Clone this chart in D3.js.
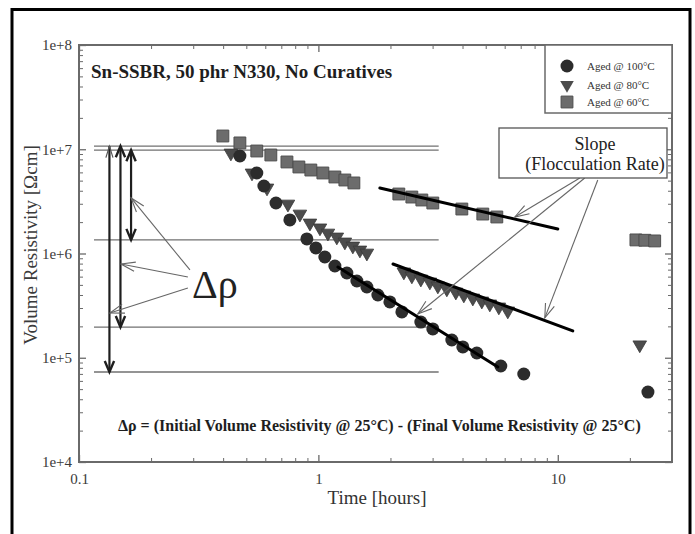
<!DOCTYPE html>
<html>
<head>
<meta charset="utf-8">
<script src="https://cdn.jsdelivr.net/npm/d3@7"></script>
<style>
  html, body { margin: 0; padding: 0; background: #fff; }
  svg { display: block; }
</style>
</head>
<body>
<svg id="chart" width="695" height="534"></svg>
<script>
// ---- Data: time [hours] vs volume resistivity [ohm·cm] ----
const aged100Time = [0.470, 0.553, 0.592, 0.665, 0.760, 0.895, 0.976, 1.064, 1.172, 1.315, 1.448, 1.594, 1.772, 1.989, 2.232, 2.679, 3.006, 3.609, 4.012, 4.590, 5.78, 7.21, 23.8];
const aged100Rho  = [8.61e6, 5.92e6, 4.44e6, 3.05e6, 2.10e6, 1.38e6, 1.13e6, 9.26e5, 7.59e5, 6.50e5, 5.45e5, 4.77e5, 4.00e5, 3.43e5, 2.75e5, 2.20e5, 1.89e5, 1.48e5, 1.27e5, 1.11e5, 8.33e4, 6.98e4, 4.69e4];

const aged80Time = [0.431, 0.528, 0.610, 0.746, 0.837, 0.922, 1.015, 1.096, 1.194, 1.290, 1.393, 1.491, 1.594, 2.275, 2.457, 2.679, 2.922, 3.155, 3.440, 3.751, 4.051, 4.417, 4.816, 5.201, 5.672, 6.183, 22.0];
const aged80Rho  = [9.2e6, 5.92e6, 4.25e6, 2.98e6, 2.39e6, 1.96e6, 1.76e6, 1.57e6, 1.44e6, 1.29e6, 1.18e6, 1.08e6, 1.01e6, 6.65e5, 6.09e5, 5.69e5, 5.33e5, 4.88e5, 4.57e5, 4.27e5, 4.00e5, 3.74e5, 3.50e5, 3.28e5, 3.07e5, 2.81e5, 1.33e5];

const aged60Time = [0.399, 0.470, 0.553, 0.633, 0.739, 0.829, 0.930, 1.044, 1.172, 1.290, 1.407, 2.168, 2.457, 2.705, 3.006, 3.974, 4.862, 5.564, 21.2, 23.1, 25.4];
const aged60Rho  = [1.34e7, 1.15e7, 9.62e6, 8.81e6, 7.55e6, 6.76e6, 6.32e6, 5.92e6, 5.42e6, 5.07e6, 4.75e6, 3.72e6, 3.48e6, 3.26e6, 3.05e6, 2.67e6, 2.39e6, 2.24e6, 1.35e6, 1.34e6, 1.32e6];

// Linear (log-log) slope fits: end points
const fit100Time = [1.206, 5.62],  fit100Rho = [7.42e5, 8.15e4];
const fit80Time  = [2.05, 11.55],  fit80Rho  = [7.93e5, 1.81e5];
const fit60Time  = [1.806, 10.0],  fit60Rho  = [4.25e6, 1.72e6];

// Reference resistivity levels (initial / final) and the time span they cover
const refLevels = [1.07e7, 9.8e6, 1.35e6, 1.97e5, 7.3e4];
const refSpan = [0.1155, 3.18];

// Δρ double arrows
const deltaTime   = [0.134, 0.149, 0.165];
const deltaTop    = [1.07e7, 1.07e7, 9.8e6];
const deltaBottom = [7.3e4, 1.97e5, 1.35e6];

// Axis ticks
const xMajor = [0.1, 1, 10];
const xTickLabels = ["0.1", "1", "10"];
const yMajor = [1e4, 1e5, 1e6, 1e7, 1e8];
const yTickLabels = ["1e+4", "1e+5", "1e+6", "1e+7", "1e+8"];

const legendLabels = ["Aged @ 100°C", "Aged @ 80°C", "Aged @ 60°C"];

// ---- Layout ----
const W = 695, H = 534;
const margin = { top: 45, right: 23, bottom: 72, left: 79 };
const x0 = margin.left, x1 = W - margin.right, y0 = H - margin.bottom, y1 = margin.top;
const serif = '"Liberation Serif", "Times New Roman", Times, serif';
const axisColor = "#6a6a6a";

const x = d3.scaleLog().domain([0.1, 30]).range([x0, x1]);
const y = d3.scaleLog().domain([1e4, 1e8]).range([y0, y1]);

const xMinor = [];
[0.1, 1, 10].forEach(d => { for (let k = 2; k <= 9; k++) if (d * k < 30.0001) xMinor.push(d * k); });
const yMinor = [];
[1e4, 1e5, 1e6, 1e7].forEach(d => { for (let k = 2; k <= 9; k++) yMinor.push(d * k); });

const svg = d3.select("#chart");
svg.append("rect").attr("width", W).attr("height", H).attr("fill", "#fff");

// outer frame
svg.append("rect").attr("x", 12).attr("y", 9.5).attr("width", 678).attr("height", H + 20)
  .attr("fill", "none").attr("stroke", "#000").attr("stroke-width", 3);

// ---- Axes ----
function styleAxis(g, sw) {
  g.select(".domain").remove();
  g.selectAll(".tick line").attr("stroke", axisColor).attr("stroke-width", sw);
  g.selectAll(".tick text").attr("fill", "#3a3a3a");
  g.attr("font-family", serif).attr("font-size", 15);
}
const major = 7, minor = 4;
svg.append("g").attr("transform", `translate(0,${y0})`)
  .call(d3.axisBottom(x).tickValues(xMajor).tickSize(-major).tickSizeOuter(0).tickPadding(11)
    .tickFormat((d, i) => xTickLabels[i])).call(g => styleAxis(g, 1.3));
svg.append("g").attr("transform", `translate(0,${y0})`)
  .call(d3.axisBottom(x).tickValues(xMinor).tickSize(-minor).tickSizeOuter(0).tickFormat(""))
  .call(g => styleAxis(g, 1));
svg.append("g").attr("transform", `translate(0,${y1})`)
  .call(d3.axisTop(x).tickValues(xMajor).tickSize(-major).tickSizeOuter(0).tickFormat(""))
  .call(g => styleAxis(g, 1.3));
svg.append("g").attr("transform", `translate(0,${y1})`)
  .call(d3.axisTop(x).tickValues(xMinor).tickSize(-minor).tickSizeOuter(0).tickFormat(""))
  .call(g => styleAxis(g, 1));
svg.append("g").attr("transform", `translate(${x0},0)`)
  .call(d3.axisLeft(y).tickValues(yMajor).tickSize(-major).tickSizeOuter(0).tickPadding(7)
    .tickFormat((d, i) => yTickLabels[i])).call(g => styleAxis(g, 1.3));
svg.append("g").attr("transform", `translate(${x0},0)`)
  .call(d3.axisLeft(y).tickValues(yMinor).tickSize(-minor).tickSizeOuter(0).tickFormat(""))
  .call(g => styleAxis(g, 1));
svg.append("g").attr("transform", `translate(${x1},0)`)
  .call(d3.axisRight(y).tickValues(yMajor).tickSize(-major).tickSizeOuter(0).tickFormat(""))
  .call(g => styleAxis(g, 1.3));
svg.append("g").attr("transform", `translate(${x1},0)`)
  .call(d3.axisRight(y).tickValues(yMinor).tickSize(-minor).tickSizeOuter(0).tickFormat(""))
  .call(g => styleAxis(g, 1));

// plot border
svg.append("rect").attr("x", x0).attr("y", y1).attr("width", x1 - x0).attr("height", y0 - y1)
  .attr("fill", "none").attr("stroke", axisColor).attr("stroke-width", 2);

// axis titles
svg.append("text").attr("x", 377).attr("y", 504).attr("text-anchor", "middle")
  .attr("font-family", serif).attr("font-size", 19).attr("fill", "#333").text("Time [hours]");
svg.append("text").attr("transform", "translate(37,245) rotate(-90)").attr("text-anchor", "middle")
  .attr("font-family", serif).attr("font-size", 19).attr("fill", "#3a3a3a").text("Volume Resistivity [Ωcm]");

// ---- Reference levels ----
svg.append("g").selectAll("line").data(refLevels).join("line")
  .attr("x1", x(refSpan[0])).attr("x2", x(refSpan[1]))
  .attr("y1", d => y(d)).attr("y2", d => y(d))
  .attr("stroke", "#707070").attr("stroke-width", 1.3);

// ---- Series markers ----
const zip = (t, r) => t.map((d, i) => ({ t: d, r: r[i] }));
const sq = d3.symbol(d3.symbolSquare, 140);
const tri = d3.symbol(d3.symbolTriangle, 80);

svg.append("g").selectAll("path").data(zip(aged60Time, aged60Rho)).join("path")
  .attr("d", sq).attr("transform", d => `translate(${x(d.t)},${y(d.r)})`)
  .attr("fill", "#6c6c6c").attr("stroke", "#4e4e4e").attr("stroke-width", 1);

svg.append("g").selectAll("path").data(zip(aged80Time, aged80Rho)).join("path")
  .attr("d", tri).attr("transform", d => `translate(${x(d.t)},${y(d.r)}) rotate(180)`)
  .attr("fill", "#4c4c4c").attr("stroke", "#3a3a3a").attr("stroke-width", 0.8);

svg.append("g").selectAll("circle").data(zip(aged100Time, aged100Rho)).join("circle")
  .attr("cx", d => x(d.t)).attr("cy", d => y(d.r)).attr("r", 6.5)
  .attr("fill", "#2c2c2c");

// ---- Slope fit lines ----
const fitLine = d3.line().x(d => x(d.t)).y(d => y(d.r));
[[fit60Time, fit60Rho], [fit80Time, fit80Rho], [fit100Time, fit100Rho]].forEach(([t, r]) => {
  svg.append("path").attr("d", fitLine(zip(t, r))).attr("fill", "none")
    .attr("stroke", "#000").attr("stroke-width", 3).attr("stroke-linecap", "round");
});

// ---- Arrow helpers ----
function vHead(ax, ay, bx, by, len, half) {
  const a = Math.atan2(by - ay, bx - ax);
  const p1 = [bx - len * Math.cos(a - half), by - len * Math.sin(a - half)];
  const p2 = [bx - len * Math.cos(a + half), by - len * Math.sin(a + half)];
  return `M${p1[0]},${p1[1]}L${bx},${by}L${p2[0]},${p2[1]}`;
}

// Δρ double arrows
deltaTime.forEach((t, i) => {
  const ax = x(t), top = y(deltaTop[i]), bot = y(deltaBottom[i]);
  svg.append("line").attr("x1", ax).attr("x2", ax).attr("y1", top).attr("y2", bot)
    .attr("stroke", "#1e1e1e").attr("stroke-width", 2.2);
  svg.append("path").attr("d", vHead(ax, bot, ax, top, 12, i === 0 ? 0.3 : 0.4))
    .attr("fill", "none").attr("stroke", i === 0 ? "#555" : "#1e1e1e").attr("stroke-width", i === 0 ? 1.2 : 2.4);
  svg.append("path").attr("d", vHead(ax, top, ax, bot, 12, 0.4))
    .attr("fill", "none").attr("stroke", "#1e1e1e").attr("stroke-width", 2.4);
});

// pointer arrows (thin) from the Δρ label and the slope box
const deltaPointers = [
  [[0.2907, 6.95e5], [0.165, 3.41e6]],
  [[0.285, 5.95e5], [0.1497, 7.93e5]],
  [[0.285, 4.67e5], [0.1347, 2.69e5]]
];
const slopePointers = [
  [[12.36, 5.30e6], [6.615, 2.24e6]],
  [[12.96, 5.30e6], [2.602, 2.63e5]],
  [[14.69, 5.07e6], [8.826, 2.41e5]]
];
[...deltaPointers, ...slopePointers].forEach(([a, b]) => {
  const ax = x(a[0]), ay = y(a[1]), bx = x(b[0]), by = y(b[1]);
  svg.append("line").attr("x1", ax).attr("y1", ay).attr("x2", bx).attr("y2", by)
    .attr("stroke", "#666").attr("stroke-width", 1.1);
  svg.append("path").attr("d", vHead(ax, ay, bx, by, 15, 0.32))
    .attr("fill", "none").attr("stroke", "#666").attr("stroke-width", 1.1);
});

// Δρ label
svg.append("text").attr("x", 192).attr("y", 298).attr("font-family", serif).attr("font-size", 40)
  .attr("fill", "#222").text("Δρ");

// Slope box
svg.append("rect").attr("x", 499).attr("y", 128).attr("width", 168).attr("height", 50)
  .attr("fill", "#fff").attr("stroke", "#555").attr("stroke-width", 1.3);
svg.append("text").attr("x", 595).attr("y", 150).attr("text-anchor", "middle")
  .attr("font-family", serif).attr("font-size", 18).attr("fill", "#222").text("Slope");
svg.append("text").attr("x", 595).attr("y", 170).attr("text-anchor", "middle")
  .attr("font-family", serif).attr("font-size", 18).attr("fill", "#222").text("(Flocculation Rate)");

// Title
svg.append("text").attr("x", 91).attr("y", 78).attr("font-family", serif).attr("font-size", 19)
  .attr("font-weight", "bold").attr("fill", "#1e1e1e").text("Sn-SSBR, 50 phr N330, No Curatives");

// Equation
svg.append("text").attr("x", 118).attr("y", 431).attr("font-family", serif).attr("font-size", 16)
  .attr("font-weight", "bold").attr("fill", "#1e1e1e")
  .text("Δρ = (Initial Volume Resistivity @ 25°C) - (Final Volume Resistivity @ 25°C)");

// ---- Legend ----
const lg = svg.append("g");
lg.append("rect").attr("x", 545).attr("y", y1).attr("width", x1 - 545).attr("height", 68)
  .attr("fill", "#fff").attr("stroke", axisColor).attr("stroke-width", 1.5);
const legendY = [66, 85, 102];
lg.append("circle").attr("cx", 567).attr("cy", legendY[0]).attr("r", 6.5).attr("fill", "#2c2c2c");
lg.append("path").attr("d", tri).attr("transform", `translate(567,${legendY[1]}) rotate(180)`)
  .attr("fill", "#4c4c4c");
lg.append("path").attr("d", sq).attr("transform", `translate(567,${legendY[2]})`)
  .attr("fill", "#6c6c6c").attr("stroke", "#4e4e4e");
legendLabels.forEach((s, i) => {
  lg.append("text").attr("x", 587).attr("y", legendY[i] + 4).attr("font-family", serif)
    .attr("font-size", 11).attr("fill", "#333").text(s);
});
</script>
</body>
</html>
